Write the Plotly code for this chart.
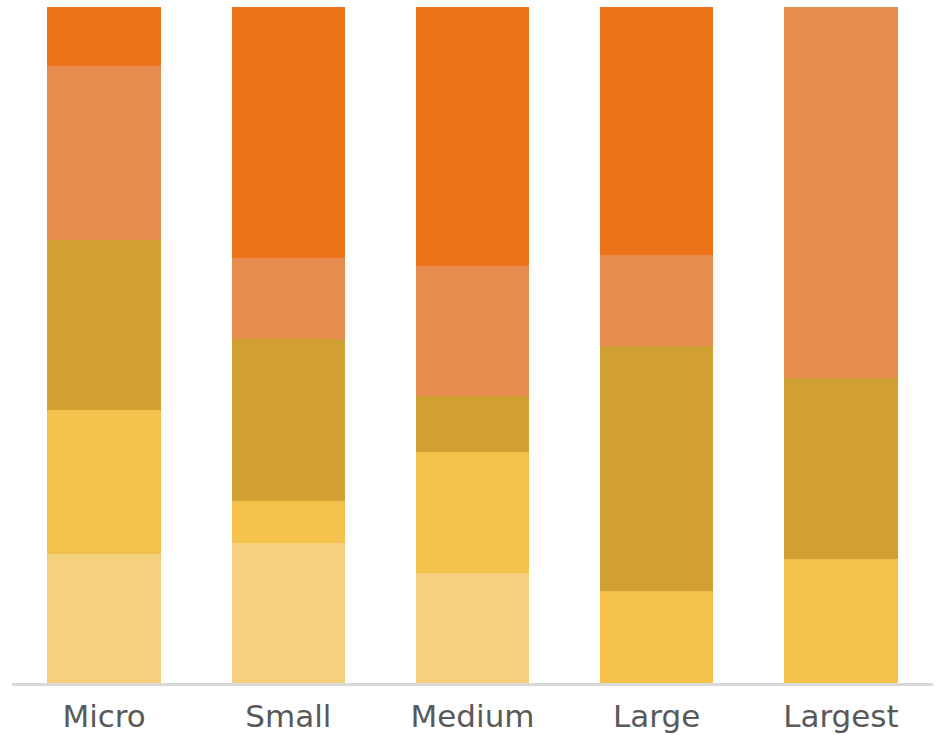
import plotly.graph_objects as go

# Company size categories along the x axis
categories = ["Micro", "Small", "Medium", "Large", "Largest"]

# Share (%) of each stacked segment, bottom to top
seg1 = [19.1, 20.7, 16.3, 0.0, 0.0]
seg2 = [21.3, 6.2, 17.8, 13.6, 18.3]
seg3 = [25.1, 24.0, 8.4, 36.2, 26.8]
seg4 = [25.7, 12.0, 19.2, 13.5, 54.9]
seg5 = [8.8, 37.1, 38.3, 36.8, 0.0]

series = [seg1, seg2, seg3, seg4, seg5]
colors = ["#F5D07E", "#F4C14C", "#D1A033", "#E78C4F", "#EE7318"]

fig = go.Figure()
for vals, col in zip(series, colors):
    fig.add_trace(go.Bar(
        x=categories,
        y=vals,
        marker=dict(color=col, line=dict(width=0)),
        hoverinfo="skip",
    ))

fig.update_layout(
    barmode="stack",
    bargap=0.384,
    width=942,
    height=735,
    margin=dict(l=12, r=9, t=7, b=52),
    paper_bgcolor="white",
    plot_bgcolor="white",
    showlegend=False,
    font=dict(family="DejaVu Sans", color="#595959"),
    xaxis=dict(
        showline=True,
        linecolor="#D9D9D9",
        linewidth=2.5,
        ticks="",
        ticklabelstandoff=4,
        automargin=False,
        tickfont=dict(size=31, color="#595959"),
        showgrid=False,
        zeroline=False,
    ),
    yaxis=dict(
        range=[0, 100],
        visible=False,
        showgrid=False,
        zeroline=False,
    ),
)

fig.write_html("out.html")
